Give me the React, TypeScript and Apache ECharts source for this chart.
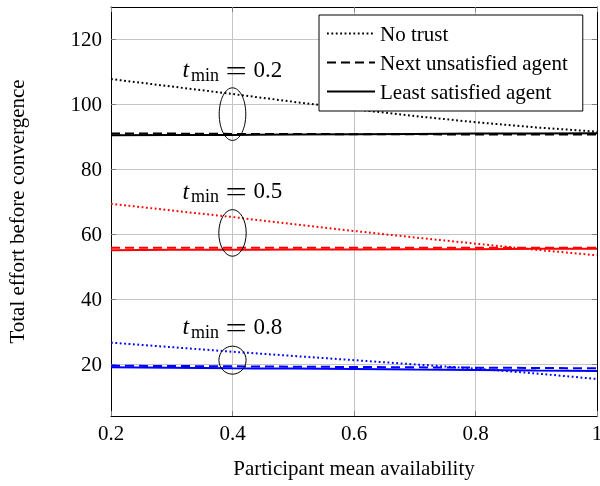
import React, { useEffect, useRef } from "react";
import * as echarts from "echarts";

const xValues = [0.2, 0.3, 0.4, 0.5, 0.6, 0.7, 0.8, 0.9, 1.0];
const xTickLabels = ["0.2", "0.4", "0.6", "0.8", "1"];
const yTicks = [20, 40, 60, 80, 100, 120];

const noTrust02 = [107.8, 105.5, 103.2, 100.8, 98.5, 96.4, 94.5, 92.9, 91.6];
const nextUnsat02 = [91.0, 91.0, 90.9, 90.9, 90.8, 90.8, 90.7, 90.7, 90.7];
const leastSat02 = [90.5, 90.6, 90.6, 90.7, 90.8, 90.9, 91.0, 91.0, 91.1];

const noTrust05 = [69.4, 67.3, 65.3, 63.1, 61.0, 59.0, 57.1, 55.2, 53.5];
const nextUnsat05 = [55.8, 55.8, 55.8, 55.8, 55.8, 55.8, 55.8, 55.8, 55.8];
const leastSat05 = [55.1, 55.2, 55.2, 55.3, 55.3, 55.4, 55.4, 55.5, 55.5];

const noTrust08 = [26.6, 25.2, 23.8, 22.5, 21.2, 19.9, 18.6, 17.1, 15.4];
const nextUnsat08 = [19.5, 19.4, 19.3, 19.2, 19.1, 19.0, 18.9, 18.8, 18.7];
const leastSat08 = [19.0, 18.9, 18.7, 18.6, 18.5, 18.3, 18.2, 18.0, 17.9];

// annotation anchors (data coords): ellipse centres and label baselines
const ellipseCenters = [
  [0.4, 97.0],
  [0.4, 60.4],
  [0.4, 21.2],
];
const ellipseRadii = [
  [13.3, 26.3],
  [13.7, 23.3],
  [13.6, 14],
];
const labelBaselines = [
  [0.4, 108.6],
  [0.4, 71.2],
  [0.4, 29.45],
];
const labelValues = ["0.2", "0.5", "0.8"];

const FONT = "'Liberation Serif', 'Times New Roman', serif";
const BLACK = "#000000";
const RED = "#ff0000";
const BLUE = "#0000ff";

const DOT: number[] = [1.8, 2.6];
const DASH: number[] = [9, 5];

function pairs(ys: number[]) {
  return xValues.map((x, i) => [x, ys[i]]);
}

function mk(name: string, ys: number[], color: string, type: any) {
  return {
    name,
    type: "line",
    data: pairs(ys),
    symbol: "none",
    showSymbol: false,
    lineStyle: { color, width: 2, type, cap: "butt" },
    itemStyle: { color },
    emphasis: { disabled: true },
    z: 2,
  };
}

function txt(x: number, y: number, text: string, fontSize: number, italic = false, scaleX = 1) {
  return {
    type: "text",
    x,
    y,
    scaleX,
    z: 20,
    silent: true,
    style: {
      text,
      fontSize,
      fontFamily: FONT,
      fontStyle: italic ? "italic" : "normal",
      fill: "#000",
      align: "left",
      verticalAlign: "middle",
      textAlign: "left",
      textVerticalAlign: "middle",
    },
  };
}

export default function App() {
  const ref = useRef<HTMLDivElement>(null);
  useEffect(() => {
    const chart = echarts.init(ref.current!, null, { renderer: "svg" });
    const tickStyle = { color: "#808080", width: 1 };
    const option: any = {
      animation: false,
      grid: { left: 111, right: 3, top: 7, bottom: 70, containLabel: false, outerBoundsMode: "none" },
      legend: {
        data: ["No trust", "Next unsatisfied agent", "Least satisfied agent"],
        orient: "vertical",
        left: 319,
        top: 15,
        padding: [8, 15, 9, 7],
        itemWidth: 48,
        itemHeight: 1,
        itemGap: 8,
        itemStyle: { opacity: 0 },
        backgroundColor: "#ffffff",
        borderColor: "#000000",
        borderWidth: 1,
        borderRadius: 0,
        selectedMode: false,
        textStyle: { fontFamily: FONT, fontSize: 21, color: "#000", lineHeight: 21 },
        z: 10,
      },
      xAxis: [
        {
          type: "value",
          min: 0.2,
          max: 1,
          interval: 0.2,
          position: "bottom",
          axisLine: { show: true, onZero: false, lineStyle: { color: "#000", width: 1 } },
          axisTick: { show: true, inside: true, length: 5, lineStyle: tickStyle },
          axisLabel: {
            margin: 6,
            fontFamily: FONT,
            fontSize: 21,
            color: "#000",
            formatter: (v: number) => {
              const i = Math.round((v - 0.2) / 0.2);
              return xTickLabels[i] ?? "";
            },
          },
          splitLine: { show: true, lineStyle: { color: "#c4c4c4", width: 1 } },
          name: "Participant mean availability",
          nameLocation: "middle",
          nameGap: 41,
          nameTextStyle: { fontFamily: FONT, fontSize: 21, color: "#000" },
        },
        {
          type: "value",
          min: 0.2,
          max: 1,
          interval: 0.2,
          position: "top",
          axisLine: { show: true, onZero: false, lineStyle: { color: "#000", width: 1 } },
          axisTick: { show: true, inside: true, length: 5, lineStyle: tickStyle },
          axisLabel: { show: false },
          splitLine: { show: false },
        },
      ],
      yAxis: [
        {
          type: "value",
          min: 4,
          max: 130,
          position: "left",
          axisLine: { show: true, onZero: false, lineStyle: { color: "#000", width: 1 } },
          axisTick: { show: true, inside: true, length: 5, lineStyle: tickStyle, customValues: yTicks },
          axisLabel: {
            customValues: yTicks,
            margin: 9,
            fontFamily: FONT,
            fontSize: 21,
            color: "#000",
          },
          splitLine: { show: true, lineStyle: { color: "#c4c4c4", width: 1 } },
          name: "Total effort before convergence",
          nameLocation: "middle",
          nameGap: 84,
          nameTextStyle: { fontFamily: FONT, fontSize: 21, color: "#000" },
        },
        {
          type: "value",
          min: 4,
          max: 130,
          position: "right",
          axisLine: { show: true, onZero: false, lineStyle: { color: "#000", width: 1 } },
          axisTick: { show: true, inside: true, length: 5, lineStyle: tickStyle, customValues: yTicks },
          axisLabel: { show: false, customValues: yTicks },
          splitLine: { show: false },
        },
      ],
      series: [
        mk("No trust", noTrust02, BLACK, DOT),
        mk("Next unsatisfied agent", nextUnsat02, BLACK, DASH),
        mk("Least satisfied agent", leastSat02, BLACK, "solid"),
        mk("No trust (0.5)", noTrust05, RED, DOT),
        mk("Next unsatisfied agent (0.5)", nextUnsat05, RED, DASH),
        mk("Least satisfied agent (0.5)", leastSat05, RED, "solid"),
        mk("No trust (0.8)", noTrust08, BLUE, DOT),
        mk("Next unsatisfied agent (0.8)", nextUnsat08, BLUE, DASH),
        mk("Least satisfied agent (0.8)", leastSat08, BLUE, "solid"),
      ],
    };
    chart.setOption(option);

    const graphics: any[] = [];
    ellipseCenters.forEach((c, i) => {
      const p = chart.convertToPixel({ xAxisIndex: 0, yAxisIndex: 0 }, c) as number[];
      graphics.push({
        type: "ellipse",
        shape: { cx: p[0], cy: p[1], rx: ellipseRadii[i][0], ry: ellipseRadii[i][1] },
        style: { fill: "none", stroke: "#000", lineWidth: 1 },
        z: 20,
        silent: true,
      });
    });
    labelBaselines.forEach((a, i) => {
      const p = chart.convertToPixel({ xAxisIndex: 0, yAxisIndex: 0 }, a) as number[];
      const cx = p[0];
      const base = p[1];
      graphics.push(txt(cx - 50, base - 7.3, "t", 24, true));
      graphics.push(txt(cx - 41.5, base - 1.5, "min", 18));
      graphics.push(txt(cx - 7, base - 5.8, "=", 27, false, 1.4));
      graphics.push(txt(cx + 21, base - 7.0, labelValues[i], 23));
    });
    chart.setOption({ graphic: graphics });

    return () => chart.dispose();
  }, []);
  return (
    <div
      ref={ref}
      style={{ position: "fixed", left: 0, top: 0, width: 600, height: 486 }}
    />
  );
}
